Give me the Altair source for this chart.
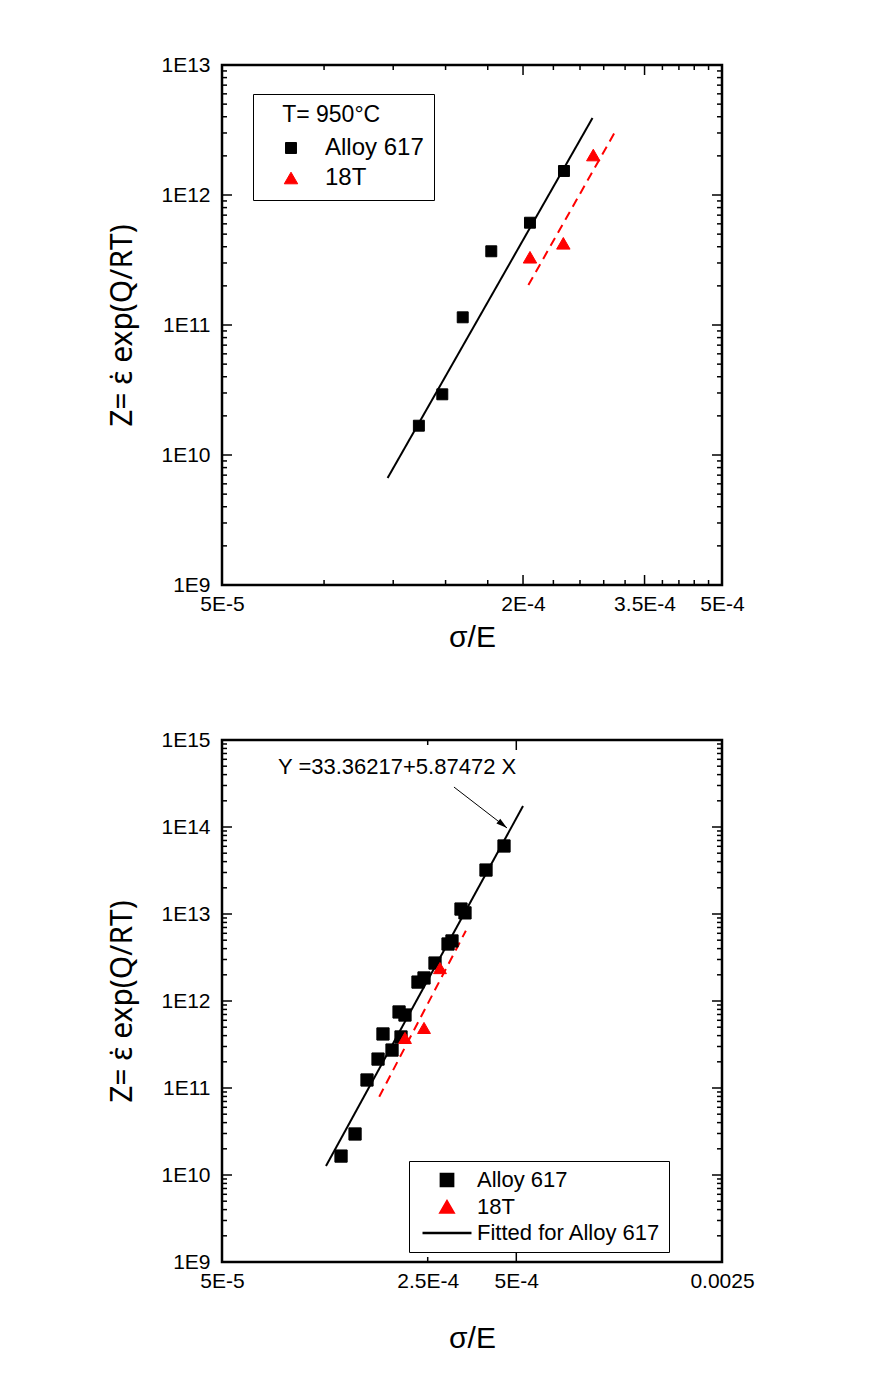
import altair as alt
import pandas as pd

FONT = "Liberation Sans"

# ---------------- Top panel (T = 950 °C) ----------------
top_alloy_x = [1.238e-4, 1.379e-4, 1.515e-4, 1.728e-4, 2.065e-4, 2.415e-4]
top_alloy_z = [1.68e10, 2.93e10, 1.146e11, 3.69e11, 6.12e11, 1.53e12]
top_t18_x = [2.065e-4, 2.408e-4, 2.764e-4]
top_t18_z = [3.32e11, 4.25e11, 2.03e12]
top_fit_alloy_x = [1.072e-4, 2.754e-4]
top_fit_alloy_z = [6.65e9, 3.91e12]
top_fit_t18_x = [2.05e-4, 3.07e-4]
top_fit_t18_z = [2.03e11, 3.16e12]

top_x_domain = [5e-5, 5e-4]
top_y_domain = [1e9, 1e13]
top_x_major = [5e-5, 2e-4, 3.5e-4, 5e-4]
top_x_labels = ["5E-5", "2E-4", "3.5E-4", "5E-4"]
top_x_minor = [8e-5, 1.1e-4, 1.4e-4, 1.7e-4, 2.3e-4, 2.6e-4, 2.9e-4,
               3.2e-4, 3.8e-4, 4.1e-4, 4.4e-4, 4.7e-4]
top_y_major = [1e9, 1e10, 1e11, 1e12, 1e13]
top_y_labels = ["1E9", "1E10", "1E11", "1E12", "1E13"]

# ---------------- Bottom panel ----------------
bot_alloy_x = [1.269e-4, 1.416e-4, 1.555e-4, 1.695e-4, 1.762e-4, 1.891e-4,
               1.998e-4, 2.029e-4, 2.093e-4, 2.317e-4, 2.429e-4, 2.647e-4,
               2.931e-4, 3.023e-4, 3.244e-4, 3.347e-4, 3.945e-4, 4.542e-4]
bot_alloy_z = [1.65e10, 2.96e10, 1.236e11, 2.15e11, 4.18e11, 2.73e11,
               7.48e11, 3.86e11, 6.90e11, 1.65e12, 1.84e12, 2.73e12,
               4.52e12, 4.90e12, 1.14e13, 1.03e13, 3.2e13, 6.05e13]
bot_t18_x = [2.093e-4, 2.429e-4, 2.752e-4]
bot_t18_z = [3.76e11, 4.9e11, 2.39e12]
bot_fit_alloy_x = [1.128e-4, 5.27e-4]
bot_fit_alloy_z = [1.27e10, 1.74e14]
bot_fit_t18_x = [1.711e-4, 3.37e-4]
bot_fit_t18_z = [7.94e10, 6.43e12]

bot_x_domain = [5e-5, 2.5e-3]
bot_y_domain = [1e9, 1e15]
bot_x_major = [5e-5, 5e-4, 2.5e-3]
bot_x_minor = [2.5e-4]
bot_x_label_values = [5e-5, 2.5e-4, 5e-4, 2.5e-3]
bot_x_labels = ["5E-5", "2.5E-4", "5E-4", "0.0025"]
bot_y_major = [1e9, 1e10, 1e11, 1e12, 1e13, 1e14, 1e15]
bot_y_labels = ["1E9", "1E10", "1E11", "1E12", "1E13", "1E14", "1E15"]

minor_multipliers = [2, 3, 4, 5, 6, 7, 8, 9]

# annotation (bottom panel)
eq_text = "Y =33.36217+5.87472 X"
eq_x, eq_z = 7.75e-5, 4.9e14
arrow_x, arrow_z = 3.07e-4, 2.88e14
arrow_x2, arrow_z2 = 4.65e-4, 9.75e13

SERIES = ["Alloy 617", "18T", "Fitted for Alloy 617"]
X_TITLE = "σ/E"
Y_TITLE = "Z= ε\u0307 exp(Q/RT)"


def label_expr(values, labels):
    expr = "''"
    for v, l in reversed(list(zip(values, labels))):
        expr = f"(abs(datum.value / {v!r} - 1) < 1e-6) ? '{l}' : {expr}"
    return expr


def minor_of(majors):
    return [m * d for d in majors[:-1] for m in minor_multipliers]


def panel(W, H, xdom, ydom, xlab_vals, xlab_txt, ylab_vals, ylab_txt,
          x_major, x_minor, y_major, pts, dom, shapes, cols, sizes, legend,
          fits, x_title_pad, extra=()):
    xs = alt.Scale(type="log", domain=xdom, nice=False)
    ys = alt.Scale(type="log", domain=ydom, nice=False)
    x_axis = alt.Axis(values=xlab_vals, labelExpr=label_expr(xlab_vals, xlab_txt),
                      ticks=False, domain=False, grid=False, labelPadding=8,
                      titlePadding=x_title_pad, labelFlush=False, labelOverlap=False,
                      titleFontSize=30, labelBound=False)
    y_axis = alt.Axis(values=ylab_vals, labelExpr=label_expr(ylab_vals, ylab_txt),
                      ticks=False, domain=False, grid=False, labelPadding=12,
                      titlePadding=23, labelFlush=False, labelOverlap=False,
                      titleFontSize=30, titleFont="Noto Sans", labelBound=False)
    xenc = alt.X("x:Q", scale=xs, axis=x_axis, title=X_TITLE)
    yenc = alt.Y("z:Q", scale=ys, axis=y_axis, title=Y_TITLE)

    layers = []

    def tick_layer(vals, side, length):
        if side in ("bottom", "top"):
            df = pd.DataFrame({"x": vals})
            if side == "bottom":
                enc = dict(x=xenc, y=alt.value(H), y2=alt.value(H - length))
            else:
                enc = dict(x=xenc, y=alt.value(0), y2=alt.value(length))
        else:
            df = pd.DataFrame({"z": vals})
            if side == "left":
                enc = dict(y=yenc, x=alt.value(0), x2=alt.value(length))
            else:
                enc = dict(y=yenc, x=alt.value(W), x2=alt.value(W - length))
        return alt.Chart(df).mark_rule(color="black", strokeWidth=1.5).encode(**enc)

    for side in ("bottom", "top"):
        layers.append(tick_layer(x_major, side, 10))
        layers.append(tick_layer(x_minor, side, 5))
    for side in ("left", "right"):
        layers.append(tick_layer(y_major, side, 10))
        layers.append(tick_layer(minor_of(y_major), side, 5))

    for fx, fz, color, dash in fits:
        mk = dict(color=color, strokeWidth=2)
        if dash:
            mk["strokeDash"] = [9, 6]
        layers.append(alt.Chart(pd.DataFrame({"x": fx, "z": fz}))
                      .mark_line(**mk).encode(x=xenc, y=yenc))

    sc_shape = alt.Scale(domain=dom, range=shapes)
    sc_col = alt.Scale(domain=dom, range=cols)
    sc_size = alt.Scale(domain=dom, range=sizes)
    layers.append(
        alt.Chart(pts).mark_point(filled=True, opacity=1, strokeWidth=1).encode(
            x=xenc, y=yenc,
            shape=alt.Shape("series:N", scale=sc_shape, legend=legend, sort=dom),
            fill=alt.Fill("series:N", scale=sc_col, legend=legend, sort=dom),
            stroke=alt.Stroke("series:N", scale=sc_col, legend=legend, sort=dom),
            size=alt.Size("series:N", scale=sc_size, legend=legend, sort=dom),
        )
    )
    for e in extra:
        layers.append(e(xenc, yenc))
    return alt.layer(*layers).properties(width=W, height=H)


# ---------- top ----------
top_pts = pd.DataFrame({
    "x": top_alloy_x + top_t18_x,
    "z": top_alloy_z + top_t18_z,
    "series": [SERIES[0]] * len(top_alloy_x) + [SERIES[1]] * len(top_t18_x),
})
top_legend = alt.Legend(
    title="\u200b\u00a0\u00a0\u00a0T= 950°C", orient="none", legendX=31, legendY=29,
    padding=10, strokeColor="black", fillColor="white",
    labelFont=FONT, titleFont=FONT, labelFontSize=24, titleFontSize=23,
    titleFontWeight="normal", labelColor="black", titleColor="black",
    titlePadding=9, symbolStrokeWidth=1, symbolOffset=16, labelOffset=22,
    rowPadding=6, labelLimit=400, titleLimit=400,
)
top = panel(500, 520, top_x_domain, top_y_domain, top_x_major, top_x_labels,
            top_y_major, top_y_labels, top_x_major, top_x_minor, top_y_major,
            top_pts, SERIES[:2], ["square", "triangle-up"], ["black", "red"],
            [120, 180], top_legend,
            [(top_fit_alloy_x, top_fit_alloy_z, "black", False),
             (top_fit_t18_x, top_fit_t18_z, "red", True)], 8)

# ---------- bottom ----------
bot_pts = pd.DataFrame({
    "x": bot_alloy_x + bot_t18_x,
    "z": bot_alloy_z + bot_t18_z,
    "series": [SERIES[0]] * len(bot_alloy_x) + [SERIES[1]] * len(bot_t18_x),
})
bot_legend = alt.Legend(
    title=None, orient="none", legendX=187, legendY=421, padding=8,
    strokeColor="black", fillColor="white", labelFont=FONT, labelFontSize=22,
    labelColor="black", symbolStrokeWidth=2.5, symbolOffset=19, labelOffset=19,
    rowPadding=4, labelLimit=400,
)


def eq_text_layer(xenc, yenc):
    return alt.Chart(pd.DataFrame({"x": [eq_x], "z": [eq_z], "t": [eq_text]})).mark_text(
        align="left", baseline="middle", font=FONT, fontSize=22, color="black"
    ).encode(x=xenc, y=yenc, text="t:N")


def arrow_line_layer(xenc, yenc):
    df = pd.DataFrame({"x": [arrow_x], "z": [arrow_z], "x2": [arrow_x2], "z2": [arrow_z2]})
    return alt.Chart(df).mark_rule(color="black", strokeWidth=1).encode(
        x=xenc, y=yenc, x2="x2:Q", y2="z2:Q")


def arrow_head_layer(xenc, yenc):
    df = pd.DataFrame({"x": [arrow_x2], "z": [arrow_z2]})
    return alt.Chart(df).mark_point(
        shape="M0,0L-0.45,1.6L0.45,1.6Z", filled=True, color="black",
        opacity=1, size=190, angle=128
    ).encode(x=xenc, y=yenc)


bottom = panel(500, 522, bot_x_domain, bot_y_domain, bot_x_label_values, bot_x_labels,
               bot_y_major, bot_y_labels, bot_x_major, bot_x_minor, bot_y_major,
               bot_pts, SERIES, ["square", "triangle-up", "M-3.65,0L3.65,0"],
               ["black", "red", "black"], [150, 180, 120], bot_legend,
               [(bot_fit_alloy_x, bot_fit_alloy_z, "black", False),
                (bot_fit_t18_x, bot_fit_t18_z, "red", True)], 32,
               extra=(eq_text_layer, arrow_line_layer, arrow_head_layer))

chart = alt.vconcat(top, bottom, spacing=73).resolve_scale(
    x="independent", y="independent", shape="independent", fill="independent",
    stroke="independent", size="independent"
).resolve_legend(
    shape="independent", fill="independent", stroke="independent", size="independent"
).properties(
    padding={"left": 98, "top": 44, "right": 5, "bottom": 5}
).configure_view(
    stroke="black", strokeWidth=2.5
).configure_axis(
    labelFont=FONT, titleFont=FONT, labelFontSize=21, titleFontSize=28,
    titleFontWeight="normal", labelColor="black", titleColor="black"
)

chart.save("out.html", embed_options={"renderer": "svg", "actions": False})
